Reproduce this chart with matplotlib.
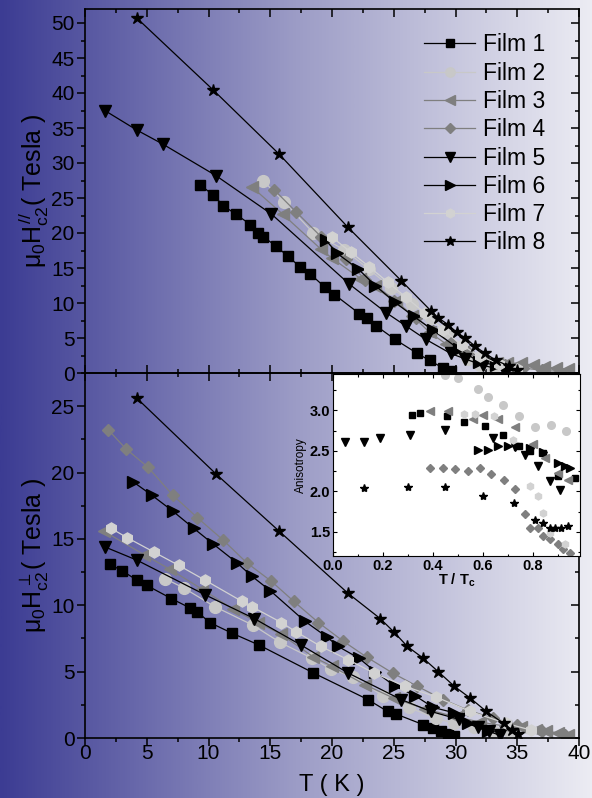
import numpy as np
import matplotlib
matplotlib.use('Agg')
import matplotlib.pyplot as plt
from matplotlib.colors import LinearSegmentedColormap
from matplotlib.ticker import MultipleLocator, FormatStrFormatter

plt.rcParams['font.family'] = ['Liberation Sans', 'DejaVu Sans']
plt.rcParams['mathtext.fontset'] = 'custom'
plt.rcParams['mathtext.rm'] = 'Liberation Sans'
plt.rcParams['mathtext.it'] = 'Liberation Sans'
plt.rcParams['mathtext.bf'] = 'Liberation Sans:bold'

film_labels = ['Film 1', 'Film 2', 'Film 3', 'Film 4', 'Film 5', 'Film 6', 'Film 7', 'Film 8']

# ---------- Upper panel: parallel upper critical field (T, Tesla) ----------
par_T1 = [9.3, 10.4, 11.2, 12.2, 13.4, 14.0, 14.4, 15.5, 16.4, 17.4, 18.2, 19.4, 20.2, 22.2, 22.8, 23.6, 25.1, 26.9, 27.9, 29.0, 29.6]
par_H1 = [26.9, 25.4, 23.9, 22.7, 21.2, 20.0, 19.5, 18.1, 16.7, 15.2, 14.2, 12.3, 11.2, 8.5, 7.8, 6.7, 4.8, 2.8, 1.8, 0.7, 0.3]
par_T2 = [14.4, 16.1, 18.5, 21.0, 23.0, 24.8, 26.5, 28.0, 29.4, 30.1, 31.0, 32.0, 33.0]
par_H2 = [27.5, 24.5, 20.0, 17.6, 14.8, 12.2, 9.9, 7.8, 5.8, 3.5, 2.0, 1.2, 0.6]
par_T3 = [13.5, 16.0, 19.1, 20.0, 22.3, 23.5, 25.2, 26.5, 27.9, 29.2, 30.6, 32.0, 33.4, 34.2, 35.3, 36.3, 37.2, 38.1, 39.1]
par_H3 = [26.6, 22.7, 17.7, 16.4, 13.5, 12.5, 10.3, 8.2, 5.8, 4.2, 3.0, 2.1, 1.4, 1.4, 1.4, 1.1, 0.85, 0.7, 0.55]
par_T4 = [15.3, 17.1, 19.1, 21.1, 22.7, 25.0, 26.8, 28.2, 29.6, 31.0, 32.5, 34.0, 35.5, 37.0, 38.5]
par_H4 = [26.2, 23.0, 19.5, 16.3, 13.3, 10.3, 7.9, 6.0, 4.3, 3.0, 2.0, 1.2, 0.7, 0.4, 0.2]
par_T5 = [1.6, 4.2, 6.3, 10.6, 15.1, 21.4, 24.4, 26.0, 27.6, 29.6, 30.8, 32.2, 33.9]
par_H5 = [37.5, 34.7, 32.7, 28.2, 22.7, 12.7, 8.6, 6.7, 4.8, 2.8, 2.0, 1.1, 0.4]
par_T6 = [19.5, 20.4, 22.1, 23.5, 25.1, 26.6, 28.2, 30.3, 31.9, 33.3, 34.3]
par_H6 = [19.0, 17.1, 14.9, 12.5, 10.1, 8.1, 6.1, 3.4, 1.6, 1.1, 0.7]
par_T7 = [20.0, 21.5, 23.0, 24.5, 26.0, 27.5, 29.0, 30.5, 32.0, 33.5, 35.0]
par_H7 = [19.4, 17.3, 15.2, 13.0, 10.8, 8.6, 6.2, 4.0, 2.4, 1.3, 0.6]
par_T8 = [4.2, 10.4, 15.7, 21.3, 25.6, 28.0, 28.6, 29.4, 30.1, 30.8, 31.6, 32.4, 33.3, 34.3, 35.0]
par_H8 = [50.7, 40.4, 31.3, 20.8, 13.2, 8.9, 7.9, 6.9, 5.8, 5.0, 3.8, 2.8, 1.8, 1.0, 0.4]

# ---------- Lower panel: perpendicular upper critical field ----------
per_T1 = [2.0, 3.0, 4.2, 5.0, 7.0, 8.5, 9.1, 10.1, 11.9, 14.1, 18.5, 22.9, 24.5, 25.2, 27.4, 28.2, 28.8, 29.4, 29.9]
per_H1 = [13.1, 12.6, 11.9, 11.5, 10.5, 9.8, 9.5, 8.7, 7.9, 7.0, 4.9, 2.9, 2.0, 1.8, 1.0, 0.75, 0.5, 0.3, 0.15]
per_T2 = [6.5, 8.0, 10.5, 13.6, 15.8, 18.4, 19.9, 21.7, 24.1, 26.2, 28.4, 29.9, 31.5, 33.0, 34.5]
per_H2 = [12.0, 11.3, 9.9, 8.5, 7.2, 6.0, 5.2, 4.6, 3.2, 2.3, 1.5, 1.1, 0.8, 0.5, 0.3]
per_T3 = [1.5, 4.8, 6.9, 9.5, 12.0, 14.0, 15.9, 18.5, 20.0, 22.7, 25.0, 27.5, 30.0, 32.0, 34.0, 35.3, 36.5, 37.3, 38.3, 39.1]
per_H3 = [15.6, 13.8, 12.7, 11.2, 9.7, 8.7, 7.8, 6.1, 5.4, 4.0, 3.0, 2.2, 1.6, 1.2, 0.9, 0.8, 0.6, 0.5, 0.4, 0.2]
per_T4 = [1.9, 3.3, 5.1, 7.1, 9.1, 11.2, 13.1, 15.1, 16.9, 18.9, 20.9, 22.8, 24.9, 26.9, 29.0, 31.0, 33.0, 35.0, 37.0, 38.9]
per_H4 = [23.2, 21.8, 20.4, 18.3, 16.6, 14.9, 13.2, 11.8, 10.3, 8.7, 7.3, 6.1, 4.9, 3.9, 2.9, 2.1, 1.5, 1.0, 0.5, 0.2]
per_T5 = [1.6, 4.2, 9.7, 13.7, 17.5, 21.3, 25.6, 28.0, 30.3, 31.8, 32.7, 33.6]
per_H5 = [14.4, 13.4, 10.8, 9.0, 7.0, 4.9, 2.9, 2.0, 1.4, 0.8, 0.5, 0.2]
per_T6 = [3.9, 5.4, 7.1, 8.8, 10.4, 12.3, 13.5, 15.0, 17.8, 19.6, 20.5, 22.2, 23.5, 25.1, 26.7, 28.2, 29.9, 31.0, 32.6]
per_H6 = [19.3, 18.3, 17.1, 15.8, 14.6, 13.2, 12.2, 11.1, 8.8, 7.6, 6.9, 6.0, 5.0, 3.9, 3.2, 2.3, 1.9, 1.1, 0.5]
per_T7 = [2.1, 3.4, 5.6, 7.6, 9.7, 12.7, 13.5, 15.9, 17.1, 19.1, 21.3, 23.4, 25.9, 28.4, 31.2, 34.1, 36.1]
per_H7 = [15.8, 15.1, 14.0, 13.0, 11.9, 10.3, 9.9, 8.7, 8.0, 6.9, 5.9, 4.9, 3.9, 3.1, 2.0, 1.1, 0.6]
per_T8 = [4.2, 10.6, 15.7, 21.3, 23.9, 25.0, 26.1, 27.4, 28.6, 29.9, 31.2, 32.5, 33.9, 34.6, 35.1]
per_H8 = [25.6, 19.9, 15.6, 10.9, 9.0, 8.0, 6.9, 6.0, 5.0, 3.9, 3.0, 2.0, 1.1, 0.6, 0.3]

# ---------- Inset: anisotropy vs T/Tc ----------
an_t1 = [0.315, 0.35, 0.455, 0.525, 0.61, 0.68, 0.745, 0.79, 0.84, 0.90, 0.97]
an_a1 = [2.94, 2.97, 2.93, 2.86, 2.81, 2.70, 2.56, 2.50, 2.47, 2.19, 2.17]
an_t2 = [0.45, 0.50, 0.58, 0.62, 0.68, 0.745, 0.81, 0.875, 0.935]
an_a2 = [3.44, 3.40, 3.27, 3.16, 3.07, 2.93, 2.80, 2.82, 2.75]
an_t3 = [0.39, 0.46, 0.56, 0.60, 0.66, 0.73, 0.80, 0.85, 0.90, 0.94]
an_a3 = [2.99, 2.99, 2.89, 2.94, 2.89, 2.80, 2.59, 2.41, 2.22, 2.14]
an_t4 = [0.39, 0.44, 0.49, 0.54, 0.59, 0.635, 0.685, 0.73, 0.77, 0.79, 0.82, 0.84, 0.87, 0.90, 0.92, 0.95]
an_a4 = [2.29, 2.29, 2.28, 2.25, 2.29, 2.21, 2.14, 2.03, 1.72, 1.55, 1.54, 1.45, 1.41, 1.35, 1.29, 1.24]
an_t5 = [0.05, 0.125, 0.19, 0.31, 0.45, 0.64, 0.73, 0.77, 0.82, 0.87, 0.91]
an_a5 = [2.61, 2.61, 2.66, 2.70, 2.76, 2.66, 2.55, 2.45, 2.31, 2.13, 2.02]
an_t6 = [0.58, 0.62, 0.66, 0.70, 0.74, 0.79, 0.84, 0.90, 0.93, 0.95]
an_a6 = [2.51, 2.51, 2.56, 2.56, 2.56, 2.53, 2.49, 2.35, 2.31, 2.29]
an_t7 = [0.525, 0.57, 0.645, 0.72, 0.79, 0.82, 0.84, 0.87, 0.93]
an_a7 = [2.96, 2.96, 2.93, 2.64, 2.07, 1.94, 1.73, 1.48, 1.35]
an_t8 = [0.125, 0.30, 0.45, 0.60, 0.725, 0.81, 0.84, 0.87, 0.89, 0.915, 0.94]
an_a8 = [2.04, 2.05, 2.05, 1.94, 1.85, 1.64, 1.61, 1.55, 1.54, 1.54, 1.57]

par_T = [par_T1, par_T2, par_T3, par_T4, par_T5, par_T6, par_T7, par_T8]
par_H = [par_H1, par_H2, par_H3, par_H4, par_H5, par_H6, par_H7, par_H8]
per_T = [per_T1, per_T2, per_T3, per_T4, per_T5, per_T6, per_T7, per_T8]
per_H = [per_H1, per_H2, per_H3, per_H4, per_H5, per_H6, per_H7, per_H8]
an_t = [an_t1, an_t2, an_t3, an_t4, an_t5, an_t6, an_t7, an_t8]
an_a = [an_a1, an_a2, an_a3, an_a4, an_a5, an_a6, an_a7, an_a8]

markers = ['s', 'o', '<', 'D', 'v', '>', 'h', '*']
colors = ['black', '#c8c8c8', '#7f7f7f', '#7f7f7f', 'black', 'black', '#d2d2d2', 'black']
msizes = [7.5, 8.5, 8.5, 6.5, 8.5, 8.5, 8.0, 9.0]
in_msizes = [4.5, 5.5, 5.5, 4.0, 5.5, 5.5, 5.0, 6.0]

W, H = 592, 798
fig = plt.figure(figsize=(W / 100, H / 100), dpi=100)

# gradient background
bg = fig.add_axes([0, 0, 1, 1], zorder=-10)
grad = np.linspace(0, 1, 512).reshape(1, -1)
cmap = LinearSegmentedColormap.from_list('bg', ['#3c3c93', '#9c9cc6', '#ececf3'])
bg.imshow(grad, aspect='auto', cmap=cmap, extent=[0, 1, 0, 1])
bg.set_xlim(0, 1); bg.set_ylim(0, 1)
bg.axis('off')

def fx(px):
    return px / W

def fy(py):
    return 1 - py / H

left, right = fx(85), fx(579)
ax1 = fig.add_axes([left, fy(373), right - left, fy(9) - fy(373)])
ax2 = fig.add_axes([left, fy(738), right - left, fy(373) - fy(738)])

for ax in (ax1, ax2):
    ax.set_facecolor('none')
    for s in ax.spines.values():
        s.set_linewidth(1.2)
    ax.set_xlim(0, 40)
    ax.xaxis.set_major_locator(MultipleLocator(5))
    ax.xaxis.set_minor_locator(MultipleLocator(2.5))
    ax.yaxis.set_major_locator(MultipleLocator(5))
    ax.yaxis.set_minor_locator(MultipleLocator(2.5))
    ax.tick_params(which='both', top=True, right=True, labelsize=15, width=1.1)
    ax.tick_params(which='major', length=5.5)
    ax.tick_params(which='minor', length=3)
    ax.tick_params(axis='x', which='both', direction='in')
    ax.tick_params(axis='y', which='both', left=True, right=True)
    ax.yaxis.set_tick_params(which='both', direction='out', pad=2)

for ax in (ax1, ax2):
    for tick in ax.yaxis.get_major_ticks() + ax.yaxis.get_minor_ticks():
        tick.tick2line.set_marker(matplotlib.lines.TICKLEFT)

ax1.set_ylim(0, 52)
ax2.set_ylim(0, 27.5)
ax1.tick_params(axis='x', labelbottom=False)
ax2.tick_params(axis='x', which='both', bottom=True, pad=4)
for tick in ax2.xaxis.get_major_ticks() + ax2.xaxis.get_minor_ticks():
    tick.tick1line.set_marker(matplotlib.lines.TICKDOWN)

for i in range(8):
    lc = colors[i]
    ax1.plot(par_T[i], par_H[i], marker=markers[i], color=lc, mfc=lc, mec=lc,
             ms=msizes[i], lw=0.9, label=film_labels[i])
    ax2.plot(per_T[i], per_H[i], marker=markers[i], color=lc, mfc=lc, mec=lc,
             ms=msizes[i], lw=0.9)

ax1.set_ylabel(r'$\mu_0H_{c2}^{//}$( Tesla )', fontsize=18)
ax2.set_ylabel(r'$\mu_0H_{c2}^{\perp}$( Tesla )', fontsize=18)
ax2.set_xlabel('T ( K )', fontsize=17, labelpad=8)
ax1.yaxis.set_label_coords(-0.068, 0.5)
ax2.yaxis.set_label_coords(-0.068, 0.5)

leg = ax1.legend(loc='upper left', bbox_to_anchor=(fx(413), fy(22)), bbox_transform=fig.transFigure,
                 frameon=False, fontsize=16.5, handlelength=2.2, handletextpad=0.35,
                 labelspacing=0.23, borderpad=0, markerscale=0.8)

# inset
axi = fig.add_axes([fx(333), fy(556), fx(580) - fx(333), fy(374) - fy(556)])
axi.set_facecolor('white')
for i in range(8):
    axi.plot(an_t[i], an_a[i], ls='none', marker=markers[i], color=colors[i],
             mec=colors[i], ms=in_msizes[i])
axi.set_xlim(0.0, 0.99)
axi.set_ylim(1.2, 3.45)
axi.xaxis.set_major_locator(MultipleLocator(0.2))
axi.xaxis.set_minor_locator(MultipleLocator(0.1))
axi.yaxis.set_major_locator(MultipleLocator(0.5))
axi.yaxis.set_minor_locator(MultipleLocator(0.25))
axi.xaxis.set_major_formatter(FormatStrFormatter('%.1f'))
axi.yaxis.set_major_formatter(FormatStrFormatter('%.1f'))
axi.tick_params(which='both', direction='in', top=True, right=True, labelsize=10.5, width=0.8, pad=2)
axi.tick_params(which='major', length=3)
axi.tick_params(which='minor', length=1.8)
for lab in axi.get_xticklabels() + axi.get_yticklabels():
    lab.set_fontweight('bold')
for s in axi.spines.values():
    s.set_linewidth(0.8)
axi.set_ylabel('Anisotropy', fontsize=8.5, labelpad=2)
axi.set_xlabel(r'T / T$_\mathregular{c}$', fontsize=10.5, labelpad=-1, fontweight='bold')

fig.savefig('out.png', dpi=100)
